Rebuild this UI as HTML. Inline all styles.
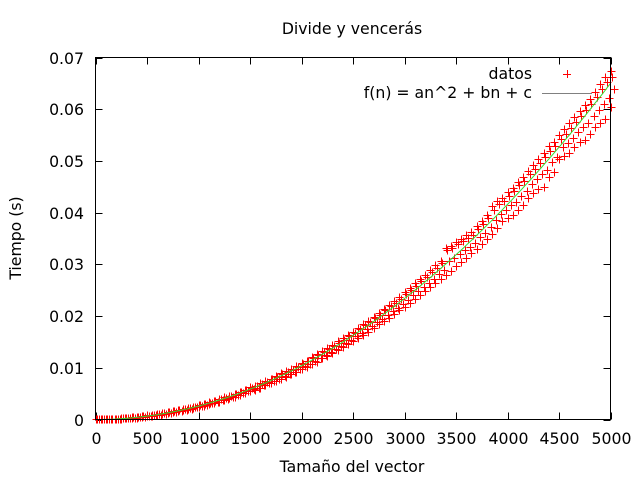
<!DOCTYPE html>
<html><head><meta charset="utf-8"><style>
html,body{margin:0;padding:0;background:#fff;}
svg{display:block;font-family:"DejaVu Sans","Liberation Sans",sans-serif;}
</style></head><body>
<svg id="chart" width="640" height="480" viewBox="0 0 640 480">
<text x="352" y="34" font-size="15.7" text-anchor="middle">Divide y vencerás</text>
<text x="0" y="0" font-size="15.7" text-anchor="middle" transform="translate(21,238) rotate(-90)">Tiempo (s)</text>
<text x="352" y="472" font-size="15.7" text-anchor="middle">Tamaño del vector</text>
<g id="ticks"></g>
<g id="pts"></g>
<g id="fit"></g>
<rect x="95.5" y="57.5" width="515" height="362" fill="none" stroke="#000" stroke-width="1"/>
<g>
<text x="532" y="79" font-size="15.7" text-anchor="end">datos</text>
<path d="M563 74.5h8M567.5 70v8" stroke="#f00" stroke-width="1"/>
<text x="532" y="98" font-size="15.7" text-anchor="end">f(n) = an^2 + bn + c</text>
<line x1="542" y1="93.5" x2="592" y2="93.5" stroke="#808080" stroke-width="1"/>
</g>
</svg>
<script>
const xTicks=[0,500,1000,1500,2000,2500,3000,3500,4000,4500,5000];
const yTicks=[0,0.01,0.02,0.03,0.04,0.05,0.06,0.07];
const yTickLabels=["0","0.01","0.02","0.03","0.04","0.05","0.06","0.07"];
const sizes=[0,50,100,150,200,250,300,350,400,450,500,550,600,650,700,750,800,850,900,950,1000,1050,1100,1150,1200,1250,1300,1350,1400,1450,1500,1550,1600,1650,1700,1750,1800,1850,1900,1950,2000,2050,2100,2150,2200,2250,2300,2350,2400,2450,2500,2550,2600,2650,2700,2750,2800,2850,2900,2950,3000,3050,3100,3150,3200,3250,3300,3350,3400,3450,3500,3550,3600,3650,3700,3750,3800,3850,3900,3950,4000,4050,4100,4150,4200,4250,4300,4350,4400,4450,4500,4550,4600,4650,4700,4750,4800,4850,4900,4950,5000];
// tiempos en ms
const timesUpper=[0.05,0.06,0.08,0.12,0.18,0.25,0.33,0.40,0.52,0.62,0.78,0.90,1.05,1.20,1.40,1.58,1.80,2.00,2.25,2.50,2.75,3.05,3.30,3.62,3.95,4.30,4.62,5.00,5.35,5.75,6.20,6.55,7.00,7.40,7.90,8.35,8.90,9.30,9.80,10.4,10.9,11.4,12.0,12.6,13.2,13.8,14.4,15.1,15.7,16.3,17.0,17.7,18.5,19.1,19.9,20.6,21.4,22.2,22.9,23.7,24.6,25.4,26.3,27.1,28.0,28.9,29.8,30.7,33.2,33.6,34.4,35.0,35.6,36.2,37.4,38.3,39.6,41.2,42.3,42.9,43.9,44.8,46.0,46.9,48.1,49.2,50.4,51.6,52.8,53.6,55.0,56.1,57.3,58.5,59.6,60.8,62.0,63.3,64.8,66.2,67.3];
const timesLower=[0.02,0.03,0.05,0.07,0.10,0.15,0.22,0.30,0.38,0.48,0.60,0.72,0.86,1.02,1.18,1.36,1.55,1.75,1.95,2.18,2.42,2.66,2.92,3.20,3.48,3.78,4.08,4.42,4.74,5.08,5.45,5.80,6.18,6.60,7.00,7.40,7.85,8.30,8.75,9.25,9.75,10.2,10.7,11.2,11.8,12.3,12.9,13.4,14.0,14.6,15.2,15.8,16.4,17.0,17.7,18.4,19.0,19.7,20.4,21.1,21.8,22.6,23.3,24.1,24.8,25.6,26.4,27.2,28.0,28.8,29.6,30.4,31.2,32.2,33.0,34.0,34.9,35.8,37.0,38.3,39.0,39.5,40.6,41.5,42.8,43.8,44.6,45.0,46.8,47.8,50.3,50.9,51.5,52.6,53.6,54.0,55.2,56.5,57.3,58.2,60.5];
const fitA=2.6e-9, fitB=0, fitC=0;

const NS="http://www.w3.org/2000/svg";
const X0=95.5,X1=610.5,Y0=419.5,Y1=57.5;
function sx(v){return X0+(v-0)/(5000-0)*(X1-X0);}
function sy(v){return Y0-(v-0)/(0.07-0)*(Y0-Y1);}
const tg=document.getElementById('ticks');
xTicks.forEach(t=>{
  const x=Math.round(sx(t))+0.5;
  const p=document.createElementNS(NS,'path');
  p.setAttribute('d',`M${x} ${Y0}v-7M${x} ${Y1}v7`);
  p.setAttribute('stroke','#000');
  
  
  tg.appendChild(p);
  const tx=document.createElementNS(NS,'text');
  tx.setAttribute('x',x);tx.setAttribute('y',444);
  tx.setAttribute('font-size','15.7');tx.setAttribute('text-anchor','middle');
  
  
  tx.textContent=t;tg.appendChild(tx);
});
yTicks.forEach((t,i)=>{
  const y=Math.round(sy(t))+0.5;
  const p=document.createElementNS(NS,'path');
  p.setAttribute('d',`M${X0} ${y}h7M${X1} ${y}h-7`);
  p.setAttribute('stroke','#000');
  
  
  tg.appendChild(p);
  const tx=document.createElementNS(NS,'text');
  tx.setAttribute('x',84);tx.setAttribute('y',y+5.5);
  tx.setAttribute('font-size','15.7');tx.setAttribute('text-anchor','end');
  
  
  tx.textContent=yTickLabels[i];tg.appendChild(tx);
});
const pg=document.getElementById('pts');
let d='';
function addPt(n,ms){const x=Math.round(sx(n))+0.5,y=Math.round(sy(ms/1000))+0.5;d+=`M${x-4} ${y}h8M${x} ${y-4}v8`;}
sizes.forEach((n,i)=>{addPt(n,timesUpper[i]);addPt(n,timesLower[i]);
  addPt(n+15,timesUpper[i]*0.985);addPt(n+35,(timesUpper[i]+timesLower[i])/2);});
const pp=document.createElementNS(NS,'path');
pp.setAttribute('d',d);pp.setAttribute('stroke','#f00');pp.setAttribute('stroke-width','1');pp.setAttribute('fill','none');
pp.setAttribute('shape-rendering','crispEdges');


pg.appendChild(pp);
let fd='';
for(let n=0;n<=5000;n+=25){const v=fitA*n*n+fitB*n+fitC;fd+=(n?'L':'M')+sx(n).toFixed(1)+' '+sy(v).toFixed(1);}
const fp=document.createElementNS(NS,'path');
fp.setAttribute('d',fd);fp.setAttribute('stroke','#33dd33');fp.setAttribute('stroke-width','1');fp.setAttribute('fill','none');


document.getElementById('fit').appendChild(fp);
</script>
</body></html>
